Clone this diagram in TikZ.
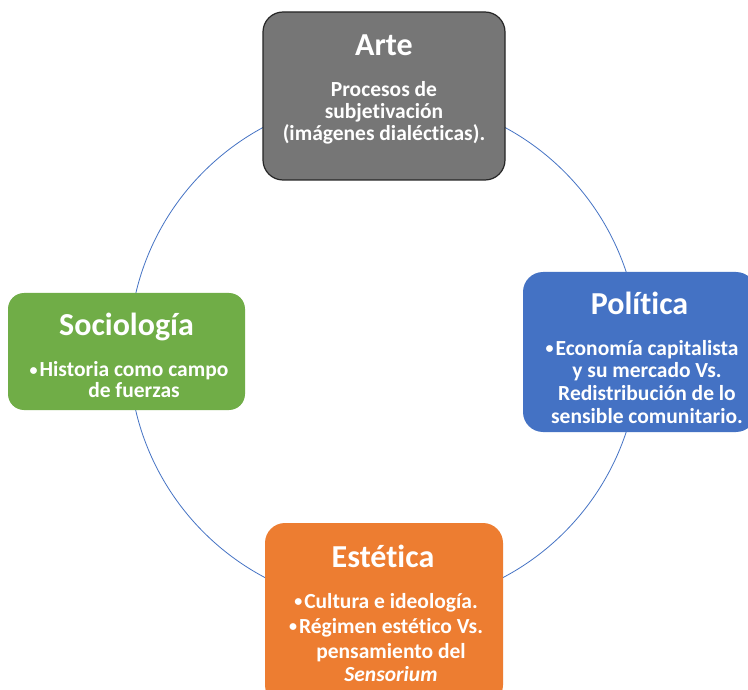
\documentclass[tikz,border=0pt]{standalone}
\usepackage{fontspec}
\setmainfont{Carlito}[Ligatures=NoCommon]
\definecolor{ringblue}{HTML}{4472C4}
\definecolor{artegray}{HTML}{767676}
\definecolor{socgreen}{HTML}{70AD47}
\definecolor{polblue}{HTML}{4472C4}
\definecolor{estorange}{HTML}{ED7D31}
% hanging bullet that does not shift the centred line
\newcommand{\hb}{\llap{\raisebox{1.5pt}{\fontsize{16}{16}\selectfont\textbullet}\hspace{2pt}}}
\begin{document}
\begin{tikzpicture}[x=1pt,y=-1pt,
  box/.style={rounded corners=20pt, inner sep=0pt, draw=none},
  ttl/.style={text=white, font=\fontsize{32}{36}\selectfont\bfseries, anchor=base, inner sep=0pt},
  txt/.style={text=white, font=\fontsize{21.5}{24}\selectfont\bfseries, anchor=base, inner sep=0pt},
  ring/.style={draw=ringblue, line width=0.8pt}]
\path[use as bounding box, clip] (0,0) rectangle (748,690);
\fill[white] (0,0) rectangle (748,690);

% ring behind the four boxes
\coordinate (c) at (384,352);
\draw[ring] (c) circle[radius=255pt];

% boxes
\node[box, fill=artegray, draw=black!85, line width=1.2pt,
      minimum width=242pt, minimum height=168pt] (arte) at (384,96) {};
\node[box, fill=socgreen, rounded corners=16pt,
      minimum width=237pt, minimum height=117pt] (soc) at (126.5,351.5) {};
\node[box, fill=polblue, minimum width=233pt, minimum height=160pt] (pol) at (639.5,352) {};
\node[box, fill=estorange, minimum width=238pt, minimum height=182pt] (est) at (384,614) {};

% Arte
\node[ttl] (arteT) at (384,56) {Arte};
\node[txt] (arte1) at (384,97) {Procesos de};
\node[txt] (arte2) at (384,119) {subjetivación};
\node[txt] (arte3) at (384,141) {(imágenes dialécticas).};

% Sociología
\node[ttl] (socT) at (126.5,335) {Sociología};
\node[txt] (soc1) at (134,376.5) {\hb Historia como campo};
\node[txt] (soc2) at (134,397) {de fuerzas};

% Política
\node[ttl] (polT) at (639.5,315) {Política};
\node[txt] (pol1) at (647,355) {\hb Economía capitalista};
\node[txt] (pol2) at (647,377.5) {y su mercado Vs.};
\node[txt] (pol3) at (647,400) {Redistribución de lo};
\node[txt] (pol4) at (647,423) {sensible comunitario.};

% Estética
\node[ttl] (estT) at (383,567) {Estética};
\node[txt] (est1) at (391,608) {\hb Cultura e ideología.};
\node[txt] (est2) at (391,633) {\hb Régimen estético Vs.};
\node[txt] (est3) at (391,658) {pensamiento del};
\node[txt] (est4) at (391,681) {\itshape Sensorium};
\end{tikzpicture}
\end{document}
